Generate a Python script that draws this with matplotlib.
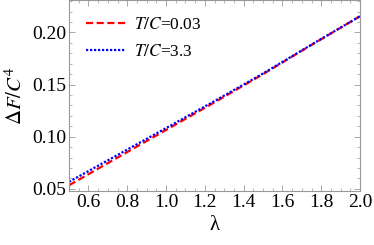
import numpy as np
import matplotlib
matplotlib.use('Agg')
import matplotlib.pyplot as plt
from matplotlib.ticker import MultipleLocator

plt.rcParams['font.family'] = ['Liberation Serif', 'DejaVu Serif']
plt.rcParams['mathtext.fontset'] = 'stix'

# values
lam = [0.5, 0.75, 1.0, 1.25, 1.5, 1.75, 2.0]
dF_low = [0.0535, 0.0800, 0.1065, 0.1330, 0.1600, 0.1880, 0.2155]
dF_high = [0.0568, 0.0825, 0.1083, 0.1342, 0.1606, 0.1883, 0.2155]
labels = [r'$T/C$=0.03', r'$T/C$=3.3']

fig = plt.figure(figsize=(3.74, 2.45), dpi=100)
ax = fig.add_axes([0.1845, 0.2204, 0.7781, 0.7776])

ax.plot(lam, dF_low, color='#ff0000', linestyle=(0, (3.2, 1.6)), linewidth=1.6, label=labels[0])
ax.plot(lam, dF_high, color='#0000ff', linestyle=(0, (1.0, 0.8)), linewidth=1.6, label=labels[1])

ax.set_xlim(0.5, 2.0)
ax.set_ylim(0.048, 0.2306)
ax.xaxis.set_minor_locator(MultipleLocator(0.05))
ax.yaxis.set_minor_locator(MultipleLocator(0.01))
ax.set_xticks(np.arange(0.6, 2.01, 0.2))
ax.set_xticklabels(['%.1f' % v for v in np.arange(0.6, 2.01, 0.2)])
ax.set_yticks([0.05, 0.10, 0.15, 0.20])
ax.set_yticklabels(['0.05', '0.10', '0.15', '0.20'])

ax.tick_params(which='both', direction='in', top=True, right=True, color='#999999')
ax.tick_params(which='major', length=4, width=0.6, labelsize=14, pad=2)
ax.tick_params(which='minor', length=2, width=0.5)
for s in ax.spines.values():
    s.set_color('#999999')
    s.set_linewidth(0.8)

ax.set_xlabel('λ', fontsize=15, labelpad=4)
ax.set_ylabel(r'$\mathit{\Delta}F/C^4$', fontsize=15, labelpad=4)

ax.legend(loc='upper left', bbox_to_anchor=(0.058, 0.915), frameon=False, fontsize=12.5,
          handlelength=2.3, handletextpad=0.5, labelspacing=0.62, borderpad=0, borderaxespad=0)

fig.savefig('out.png', dpi=100)
